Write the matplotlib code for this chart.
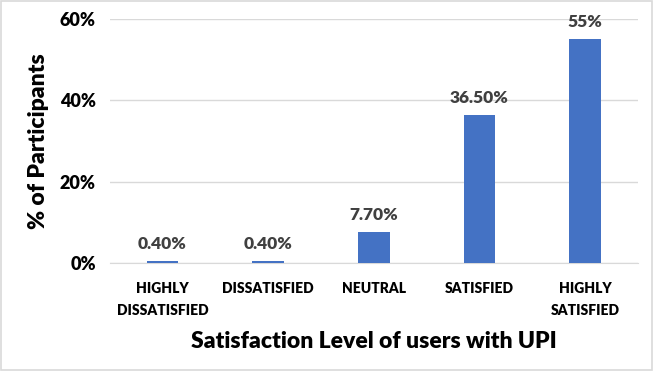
import matplotlib.pyplot as plt
from matplotlib.patches import Rectangle

categories = ["HIGHLY\nDISSATISFIED", "DISSATISFIED", "NEUTRAL", "SATISFIED", "HIGHLY\nSATISFIED"]
values = [0.4, 0.4, 7.7, 36.5, 55]
value_labels = ["0.40%", "0.40%", "7.70%", "36.50%", "55%"]
yticks = [0, 20, 40, 60]

plt.rcParams['font.family'] = ['Lato', 'DejaVu Sans']
W = "heavy"

fig = plt.figure(figsize=(6.53, 3.71), dpi=100)
ax = fig.add_axes([0.168, 0.291, 0.809, 0.658])

x = range(len(categories))
bars = ax.bar(x, values, width=0.3, color="#4472C4", zorder=3)

for xi, v, lab in zip(x, values, value_labels):
    ax.text(xi, v + 2.2, lab, ha="center", va="bottom", fontsize=12.5,
            fontweight=W, color="#404040")

ax.set_xlim(-0.5, len(categories) - 0.5)
ax.set_ylim(0, 60)
ax.set_yticks(yticks)
ax.set_yticklabels([f"{t}%" for t in yticks], fontsize=13, fontweight=W)
ax.set_xticks(list(x))
ax.set_xticklabels(categories, fontsize=10, fontweight=W, linespacing=1.8)
ax.tick_params(axis="y", length=0, pad=10)
ax.tick_params(axis="x", length=0, pad=14)

ax.grid(axis="y", color="#d9d9d9", linewidth=1, zorder=0)
for s in ["top", "right", "left"]:
    ax.spines[s].set_visible(False)
ax.spines["bottom"].set_color("#d9d9d9")

ax.set_ylabel("% of Participants", fontsize=16.5, fontweight=W, labelpad=8)
ax.set_xlabel("Satisfaction Level of users with UPI", fontsize=16.5, fontweight=W, labelpad=10)

fig.patches.append(Rectangle((0.001, 0.002), 0.997, 0.995, transform=fig.transFigure,
                             fill=False, edgecolor="#d9d9d9", linewidth=1.2))

fig.savefig("out.png", dpi=100)
